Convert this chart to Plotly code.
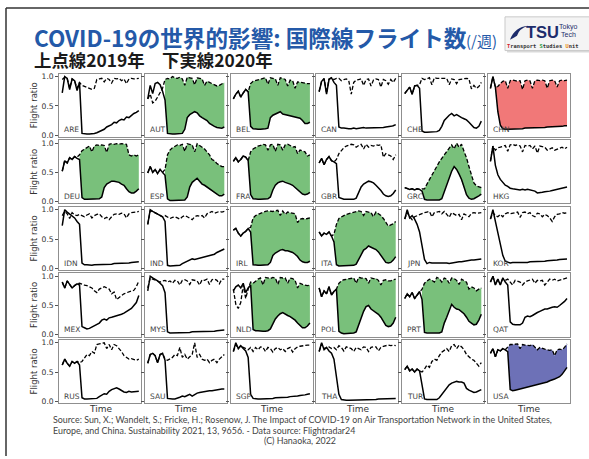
import plotly.graph_objects as go

# ---------------- data ----------------
weeks = [1, 2, 3, 4, 5, 6, 7, 8, 9, 10, 11, 12, 13, 14, 15, 16,
         17, 18, 19, 20, 21, 22, 23, 24, 25, 26, 27, 28, 29, 30, 31, 32]

countries = ["ARE", "AUT", "BEL", "CAN", "CHE", "CHN",
             "DEU", "ESP", "FRA", "GBR", "GRC", "HKG",
             "IDN", "IND", "IRL", "ITA", "JPN", "KOR",
             "MEX", "MYS", "NLD", "POL", "PRT", "QAT",
             "RUS", "SAU", "SGP", "THA", "TUR", "USA"]

green_fill = ["AUT", "BEL", "DEU", "ESP", "FRA", "GRC", "IRL", "ITA", "NLD", "POL", "PRT"]
red_fill = ["CHN"]
blue_fill = ["USA"]

ARE_2019 = [0.95, 0.99, 0.97, 0.80, 0.96, 0.93, 0.80, 0.90, 0.85, 0.83, 0.81, 0.80, 0.78, 0.80, 0.95, 0.96,
            0.97, 0.91, 0.97, 0.95, 0.89, 0.97, 0.96, 0.97, 0.93, 0.96, 0.88, 0.96, 0.97, 0.96, 0.97, 0.97]
ARE_2020 = [0.72, 1.00, 0.97, 0.78, 0.96, 0.93, 0.76, 0.90, 0.03, 0.02, 0.02, 0.02, 0.02, 0.03, 0.04, 0.06,
            0.08, 0.10, 0.14, 0.16, 0.18, 0.22, 0.21, 0.25, 0.27, 0.26, 0.31, 0.30, 0.34, 0.37, 0.39, 0.42]
AUT_2019 = [0.62, 0.70, 0.55, 0.58, 0.65, 0.72, 0.80, 0.95, 0.97, 0.96, 1.00, 0.98, 0.97, 0.99, 0.96, 0.85,
            0.99, 0.98, 0.97, 0.86, 0.98, 0.97, 0.96, 0.85, 0.92, 0.90, 0.88, 0.85, 0.84, 0.85, 0.88, 0.90]
AUT_2020 = [0.62, 0.85, 0.71, 0.88, 0.90, 0.86, 0.75, 0.60, 0.03, 0.02, 0.02, 0.02, 0.02, 0.02, 0.03, 0.10,
            0.30, 0.35, 0.37, 0.40, 0.38, 0.33, 0.30, 0.28, 0.25, 0.20, 0.17, 0.15, 0.13, 0.12, 0.12, 0.14]
BEL_2019 = [0.62, 0.70, 0.75, 0.65, 0.72, 0.78, 0.74, 0.88, 0.92, 0.93, 0.95, 0.96, 0.97, 0.98, 0.87, 0.98,
            0.97, 0.96, 0.85, 0.98, 0.97, 0.95, 0.84, 0.94, 0.93, 0.80, 0.91, 0.90, 0.89, 0.88, 0.88, 0.88]
BEL_2020 = [0.62, 0.70, 0.75, 0.65, 0.72, 0.78, 0.74, 0.15, 0.11, 0.10, 0.10, 0.10, 0.10, 0.11, 0.12, 0.30,
            0.34, 0.36, 0.38, 0.40, 0.36, 0.35, 0.33, 0.33, 0.32, 0.31, 0.30, 0.29, 0.25, 0.20, 0.20, 0.22]
CAN_2019 = [0.75, 0.92, 0.97, 0.72, 0.96, 0.98, 0.95, 0.97, 0.97, 0.93, 0.95, 0.96, 0.93, 0.70, 0.90, 0.94,
            0.95, 0.96, 0.85, 0.95, 0.96, 0.84, 0.94, 0.96, 0.95, 0.82, 0.95, 0.93, 0.87, 0.95, 0.90, 0.97]
CAN_2020 = [0.74, 0.92, 0.96, 0.70, 0.95, 0.98, 0.90, 0.85, 0.14, 0.12, 0.12, 0.11, 0.11, 0.11, 0.12, 0.11,
            0.12, 0.12, 0.13, 0.12, 0.12, 0.13, 0.12, 0.12, 0.13, 0.13, 0.13, 0.14, 0.14, 0.15, 0.16, 0.18]
CHE_2019 = [0.71, 0.76, 0.82, 0.70, 0.84, 0.85, 0.86, 0.97, 0.95, 0.96, 0.98, 0.86, 0.98, 0.97, 0.97, 0.98,
            0.97, 0.97, 0.86, 0.96, 0.95, 0.88, 0.95, 0.96, 0.97, 0.97, 0.96, 0.79, 0.85, 0.80, 0.83, 0.90]
CHE_2020 = [0.71, 0.76, 0.82, 0.70, 0.84, 0.85, 0.80, 0.07, 0.05, 0.05, 0.05, 0.05, 0.05, 0.06, 0.08, 0.15,
            0.25, 0.30, 0.34, 0.37, 0.33, 0.35, 0.32, 0.30, 0.28, 0.26, 0.22, 0.17, 0.13, 0.12, 0.15, 0.24]
CHN_2019 = [0.80, 1.00, 0.82, 0.83, 0.88, 0.92, 0.93, 0.80, 0.93, 0.94, 0.93, 0.92, 0.93, 0.78, 0.93, 0.94,
            0.93, 0.80, 0.93, 0.94, 0.93, 0.94, 0.93, 0.80, 0.93, 0.94, 0.93, 0.82, 0.93, 0.94, 0.93, 0.94]
CHN_2020 = [0.80, 1.00, 0.82, 0.40, 0.17, 0.11, 0.10, 0.10, 0.10, 0.10, 0.11, 0.11, 0.11, 0.11, 0.12, 0.12,
            0.12, 0.12, 0.12, 0.13, 0.13, 0.13, 0.13, 0.14, 0.14, 0.14, 0.14, 0.15, 0.15, 0.15, 0.16, 0.16]
DEU_2019 = [0.52, 0.70, 0.66, 0.75, 0.72, 0.77, 0.76, 0.80, 0.87, 0.90, 0.93, 0.95, 0.85, 0.95, 0.97, 0.96,
            0.97, 0.96, 0.84, 0.98, 0.99, 0.98, 0.99, 0.98, 0.99, 0.98, 0.98, 0.80, 0.78, 0.80, 0.78, 0.80]
DEU_2020 = [0.52, 0.70, 0.66, 0.75, 0.72, 0.77, 0.74, 0.72, 0.07, 0.04, 0.04, 0.04, 0.04, 0.04, 0.04, 0.05,
            0.08, 0.24, 0.30, 0.33, 0.35, 0.35, 0.34, 0.33, 0.30, 0.28, 0.22, 0.17, 0.15, 0.15, 0.18, 0.22]
ESP_2019 = [0.49, 0.60, 0.50, 0.55, 0.48, 0.55, 0.50, 0.55, 0.80, 0.88, 0.92, 0.95, 0.97, 0.96, 0.98, 0.86,
            0.99, 0.98, 0.97, 0.85, 0.99, 0.96, 0.93, 0.90, 0.85, 0.80, 0.72, 0.70, 0.65, 0.62, 0.60, 0.60]
ESP_2020 = [0.49, 0.60, 0.50, 0.55, 0.48, 0.55, 0.50, 0.45, 0.05, 0.02, 0.02, 0.02, 0.02, 0.02, 0.02, 0.03,
            0.08, 0.25, 0.33, 0.37, 0.40, 0.35, 0.30, 0.28, 0.25, 0.22, 0.18, 0.15, 0.12, 0.10, 0.10, 0.13]
FRA_2019 = [0.69, 0.75, 0.68, 0.72, 0.78, 0.76, 0.70, 0.85, 0.90, 0.93, 0.95, 0.96, 0.98, 0.97, 0.88, 0.97,
            0.98, 0.86, 0.98, 0.97, 0.88, 0.97, 0.98, 0.96, 0.93, 0.94, 0.82, 0.88, 0.86, 0.85, 0.78, 0.80]
FRA_2020 = [0.69, 0.75, 0.68, 0.72, 0.78, 0.76, 0.70, 0.12, 0.05, 0.04, 0.04, 0.04, 0.04, 0.04, 0.05, 0.08,
            0.20, 0.28, 0.32, 0.34, 0.35, 0.33, 0.32, 0.30, 0.28, 0.24, 0.20, 0.16, 0.13, 0.12, 0.13, 0.16]
GBR_2019 = [0.66, 0.74, 0.63, 0.72, 0.77, 0.70, 0.68, 0.72, 0.82, 0.88, 0.92, 0.95, 0.96, 0.98, 0.97, 0.93,
            0.96, 0.98, 0.90, 0.98, 0.93, 0.96, 0.95, 0.97, 0.96, 0.97, 0.76, 0.82, 0.80, 0.78, 0.72, 0.80]
GBR_2020 = [0.66, 0.74, 0.63, 0.72, 0.77, 0.70, 0.68, 0.65, 0.07, 0.05, 0.04, 0.04, 0.04, 0.04, 0.04, 0.06,
            0.15, 0.25, 0.30, 0.33, 0.35, 0.34, 0.32, 0.28, 0.24, 0.19, 0.13, 0.10, 0.09, 0.10, 0.14, 0.20]
GRC_2019 = [0.24, 0.22, 0.21, 0.22, 0.20, 0.22, 0.21, 0.22, 0.22, 0.30, 0.38, 0.45, 0.52, 0.60, 0.68, 0.74,
            0.80, 0.86, 0.92, 0.97, 0.90, 1.00, 0.93, 0.98, 0.86, 0.75, 0.60, 0.45, 0.32, 0.27, 0.25, 0.24]
GRC_2020 = [0.24, 0.22, 0.21, 0.22, 0.20, 0.22, 0.21, 0.18, 0.04, 0.03, 0.03, 0.03, 0.03, 0.03, 0.03, 0.05,
            0.17, 0.30, 0.42, 0.52, 0.60, 0.55, 0.47, 0.38, 0.25, 0.12, 0.06, 0.04, 0.05, 0.07, 0.10, 0.13]
HKG_2019 = [0.69, 0.95, 0.88, 0.92, 0.93, 0.95, 0.96, 0.86, 0.97, 0.98, 0.96, 0.97, 0.95, 0.85, 0.96, 0.95,
            0.96, 0.90, 0.95, 0.83, 0.95, 0.94, 0.93, 0.88, 0.90, 0.92, 0.88, 0.90, 0.92, 0.93, 0.90, 0.93]
HKG_2020 = [0.69, 0.95, 0.62, 0.46, 0.38, 0.32, 0.28, 0.26, 0.23, 0.22, 0.21, 0.20, 0.20, 0.21, 0.20, 0.21,
            0.20, 0.20, 0.18, 0.15, 0.15, 0.16, 0.17, 0.17, 0.18, 0.19, 0.20, 0.21, 0.22, 0.23, 0.24, 0.25]
IDN_2019 = [0.90, 0.97, 0.93, 0.85, 0.95, 0.91, 0.90, 0.92, 0.90, 0.88, 0.91, 0.93, 0.86, 0.90, 0.92, 0.93,
            0.88, 0.85, 0.87, 0.83, 0.88, 0.92, 0.93, 0.92, 0.94, 0.93, 0.86, 0.93, 0.95, 0.95, 0.96, 0.97]
IDN_2020 = [0.73, 1.00, 0.96, 0.93, 0.90, 0.86, 0.80, 0.75, 0.09, 0.06, 0.06, 0.05, 0.05, 0.06, 0.06, 0.06,
            0.06, 0.07, 0.07, 0.07, 0.07, 0.08, 0.08, 0.08, 0.08, 0.09, 0.09, 0.09, 0.10, 0.10, 0.10, 0.11]
IND_2019 = [0.75, 0.98, 0.97, 0.95, 0.92, 0.90, 0.88, 0.90, 0.88, 0.85, 0.87, 0.88, 0.86, 0.84, 0.88, 0.90,
            0.88, 0.86, 0.83, 0.88, 0.90, 0.89, 0.90, 0.86, 0.93, 0.95, 0.97, 0.94, 0.96, 0.97, 0.96, 0.97]
IND_2020 = [0.75, 1.00, 0.97, 0.95, 0.92, 0.90, 0.88, 0.80, 0.05, 0.04, 0.04, 0.04, 0.04, 0.05, 0.08, 0.10,
            0.12, 0.14, 0.16, 0.15, 0.16, 0.17, 0.18, 0.19, 0.20, 0.21, 0.22, 0.24, 0.27, 0.29, 0.31, 0.33]
IRL_2019 = [0.65, 0.68, 0.60, 0.55, 0.60, 0.63, 0.68, 0.70, 0.86, 0.90, 0.92, 0.94, 0.95, 0.97, 0.98, 0.97,
            0.97, 0.98, 0.99, 0.90, 0.98, 0.92, 0.96, 0.95, 0.94, 0.93, 0.78, 0.84, 0.85, 0.84, 0.85, 0.86]
IRL_2020 = [0.65, 0.68, 0.60, 0.55, 0.60, 0.63, 0.68, 0.62, 0.06, 0.05, 0.05, 0.05, 0.05, 0.05, 0.06, 0.10,
            0.22, 0.26, 0.29, 0.31, 0.32, 0.30, 0.30, 0.29, 0.27, 0.24, 0.20, 0.14, 0.11, 0.10, 0.10, 0.12]
ITA_2019 = [0.62, 0.55, 0.60, 0.58, 0.62, 0.55, 0.58, 0.75, 0.85, 0.88, 0.90, 0.92, 0.93, 0.95, 0.96, 0.97,
            0.98, 0.97, 0.90, 0.97, 0.96, 0.95, 0.88, 0.96, 0.93, 0.90, 0.85, 0.78, 0.72, 0.74, 0.76, 0.80]
ITA_2020 = [0.62, 0.55, 0.60, 0.58, 0.62, 0.55, 0.45, 0.06, 0.04, 0.04, 0.04, 0.04, 0.04, 0.04, 0.05, 0.07,
            0.15, 0.25, 0.31, 0.34, 0.38, 0.36, 0.34, 0.32, 0.28, 0.22, 0.16, 0.10, 0.09, 0.10, 0.14, 0.20]
JPN_2019 = [0.84, 0.95, 0.88, 0.83, 0.88, 0.90, 0.92, 0.93, 0.95, 0.96, 0.97, 0.88, 0.95, 0.96, 0.97, 0.93,
            0.97, 0.92, 0.87, 0.95, 0.93, 0.90, 0.92, 0.83, 0.93, 0.90, 0.88, 0.94, 0.95, 0.94, 0.95, 0.95]
JPN_2020 = [0.84, 1.00, 0.86, 0.90, 0.84, 0.75, 0.62, 0.40, 0.15, 0.08, 0.10, 0.09, 0.09, 0.09, 0.10, 0.10,
            0.10, 0.09, 0.08, 0.09, 0.10, 0.10, 0.11, 0.11, 0.12, 0.12, 0.13, 0.14, 0.14, 0.15, 0.15, 0.16]
KOR_2019 = [0.84, 0.95, 0.90, 0.88, 0.92, 0.88, 0.93, 0.95, 0.93, 0.94, 0.95, 0.96, 0.87, 0.95, 0.96, 0.93,
            0.95, 0.90, 0.88, 0.94, 0.93, 0.88, 0.92, 0.90, 0.86, 0.80, 0.88, 0.92, 0.93, 0.95, 0.94, 0.95]
KOR_2020 = [0.84, 1.00, 0.80, 0.60, 0.40, 0.22, 0.12, 0.10, 0.09, 0.10, 0.10, 0.10, 0.09, 0.10, 0.10, 0.10,
            0.11, 0.11, 0.11, 0.12, 0.12, 0.12, 0.12, 0.13, 0.13, 0.13, 0.14, 0.14, 0.15, 0.15, 0.16, 0.16]
MEX_2019 = [0.90, 0.80, 0.92, 0.85, 0.80, 0.84, 0.87, 0.88, 0.86, 0.85, 0.84, 0.82, 0.80, 0.75, 0.72, 0.78,
            0.80, 0.82, 0.80, 0.78, 0.70, 0.73, 0.60, 0.64, 0.67, 0.70, 0.72, 0.73, 0.75, 0.76, 0.82, 0.92]
MEX_2020 = [0.90, 0.80, 0.92, 0.85, 0.80, 0.84, 0.87, 0.85, 0.14, 0.12, 0.10, 0.11, 0.13, 0.15, 0.18, 0.20,
            0.25, 0.27, 0.25, 0.29, 0.30, 0.31, 0.32, 0.34, 0.35, 0.37, 0.40, 0.42, 0.45, 0.50, 0.55, 0.67]
MYS_2019 = [0.80, 0.97, 0.95, 0.93, 0.92, 0.90, 0.92, 0.93, 0.90, 0.92, 0.88, 0.93, 0.92, 0.85, 0.93, 0.94,
            0.92, 0.86, 0.94, 0.93, 0.92, 0.85, 0.94, 0.93, 0.95, 0.86, 0.94, 0.95, 0.93, 0.87, 0.95, 0.95]
MYS_2020 = [0.75, 1.00, 0.97, 0.95, 0.92, 0.88, 0.84, 0.72, 0.05, 0.03, 0.03, 0.03, 0.03, 0.03, 0.04, 0.04,
            0.04, 0.04, 0.05, 0.05, 0.05, 0.05, 0.05, 0.06, 0.06, 0.06, 0.06, 0.06, 0.07, 0.07, 0.07, 0.08]
NLD_2019 = [0.78, 0.52, 0.45, 0.55, 0.85, 0.62, 0.78, 0.90, 0.88, 0.92, 0.95, 0.97, 0.85, 0.98, 0.97, 0.96,
            0.98, 0.97, 0.86, 0.98, 0.97, 0.97, 0.88, 0.97, 0.96, 0.93, 0.80, 0.88, 0.86, 0.85, 0.84, 0.85]
NLD_2020 = [0.75, 0.82, 0.85, 0.80, 0.88, 0.72, 0.80, 0.85, 0.09, 0.07, 0.07, 0.06, 0.06, 0.06, 0.07, 0.10,
            0.20, 0.27, 0.32, 0.36, 0.38, 0.35, 0.33, 0.31, 0.28, 0.25, 0.20, 0.15, 0.12, 0.12, 0.15, 0.20]
POL_2019 = [0.80, 0.65, 0.75, 0.70, 0.82, 0.68, 0.74, 0.78, 0.88, 0.92, 0.94, 0.95, 0.96, 0.97, 0.97, 0.88,
            0.98, 0.97, 0.97, 0.96, 0.88, 0.97, 0.96, 0.96, 0.93, 0.85, 0.93, 0.94, 0.92, 0.92, 0.94, 0.95]
POL_2020 = [0.80, 0.65, 0.75, 0.70, 0.82, 0.68, 0.74, 0.78, 0.06, 0.03, 0.02, 0.02, 0.02, 0.02, 0.03, 0.05,
            0.18, 0.30, 0.40, 0.48, 0.50, 0.44, 0.41, 0.39, 0.35, 0.30, 0.22, 0.16, 0.14, 0.15, 0.20, 0.30]
PRT_2019 = [0.62, 0.70, 0.65, 0.72, 0.62, 0.68, 0.74, 0.78, 0.88, 0.92, 0.95, 0.93, 0.90, 0.98, 0.96, 0.90,
            0.97, 0.95, 0.88, 0.97, 0.96, 0.93, 0.86, 0.95, 0.92, 0.90, 0.78, 0.82, 0.80, 0.75, 0.78, 0.80]
PRT_2020 = [0.62, 0.70, 0.65, 0.72, 0.62, 0.68, 0.74, 0.60, 0.04, 0.03, 0.03, 0.03, 0.03, 0.03, 0.03, 0.05,
            0.20, 0.30, 0.42, 0.52, 0.47, 0.44, 0.43, 0.40, 0.36, 0.30, 0.23, 0.20, 0.17, 0.18, 0.25, 0.35]
QAT_2019 = [0.90, 1.00, 0.86, 0.95, 0.86, 0.96, 0.93, 0.95, 0.90, 0.85, 0.93, 0.92, 0.90, 0.85, 0.90, 0.92,
            0.93, 0.95, 0.88, 0.93, 0.92, 0.93, 0.85, 0.90, 0.95, 0.93, 0.95, 0.92, 0.93, 0.95, 0.96, 0.97]
QAT_2020 = [0.90, 1.00, 0.85, 0.95, 0.85, 0.97, 0.90, 0.85, 0.22, 0.18, 0.17, 0.17, 0.17, 0.20, 0.30, 0.32,
            0.31, 0.33, 0.36, 0.38, 0.40, 0.42, 0.44, 0.44, 0.46, 0.47, 0.48, 0.47, 0.50, 0.53, 0.57, 0.62]
RUS_2019 = [0.62, 0.72, 0.65, 0.60, 0.68, 0.65, 0.68, 0.66, 0.68, 0.74, 0.80, 0.78, 0.85, 0.82, 0.97, 0.98,
            0.99, 1.00, 0.90, 0.97, 0.88, 0.97, 0.95, 0.90, 0.85, 0.78, 0.75, 0.72, 0.73, 0.72, 0.70, 0.72]
RUS_2020 = [0.62, 0.72, 0.65, 0.60, 0.68, 0.65, 0.68, 0.62, 0.06, 0.04, 0.04, 0.04, 0.04, 0.04, 0.05, 0.08,
            0.11, 0.13, 0.12, 0.17, 0.20, 0.21, 0.23, 0.21, 0.18, 0.16, 0.15, 0.17, 0.16, 0.16, 0.17, 0.17]
SAU_2019 = [0.65, 0.80, 0.82, 0.78, 0.66, 0.80, 0.82, 0.72, 0.70, 0.72, 0.75, 0.80, 0.78, 0.92, 0.75, 0.80,
            0.72, 0.76, 0.80, 1.00, 0.75, 0.80, 0.72, 0.70, 0.72, 0.66, 0.70, 0.72, 0.66, 0.72, 0.76, 0.80]
SAU_2020 = [0.65, 0.80, 0.82, 0.78, 0.66, 0.80, 0.82, 0.70, 0.05, 0.04, 0.04, 0.04, 0.05, 0.07, 0.09, 0.08,
            0.10, 0.12, 0.09, 0.12, 0.14, 0.15, 0.16, 0.16, 0.17, 0.18, 0.18, 0.19, 0.20, 0.20, 0.21, 0.21]
SGP_2019 = [0.85, 0.97, 0.90, 0.95, 0.92, 0.90, 0.88, 0.92, 0.85, 0.92, 0.88, 0.93, 0.92, 0.85, 0.92, 0.90,
            0.84, 0.90, 0.92, 0.88, 0.90, 0.85, 0.90, 0.92, 0.84, 0.90, 0.93, 0.94, 0.95, 0.95, 0.96, 0.96]
SGP_2020 = [0.85, 1.00, 0.90, 0.95, 0.90, 0.86, 0.75, 0.12, 0.05, 0.04, 0.04, 0.04, 0.04, 0.05, 0.05, 0.05,
            0.05, 0.06, 0.06, 0.06, 0.07, 0.07, 0.07, 0.08, 0.08, 0.09, 0.09, 0.10, 0.10, 0.11, 0.12, 0.13]
THA_2019 = [0.85, 0.98, 0.90, 0.92, 0.93, 0.90, 0.92, 0.88, 0.95, 0.92, 0.86, 0.93, 0.92, 0.90, 0.85, 0.92,
            0.90, 0.88, 0.93, 0.92, 0.85, 0.92, 0.93, 0.93, 0.86, 0.92, 0.94, 0.95, 0.96, 0.95, 0.96, 0.95]
THA_2020 = [0.85, 1.00, 0.88, 0.92, 0.86, 0.82, 0.72, 0.45, 0.12, 0.03, 0.02, 0.02, 0.02, 0.02, 0.02, 0.02,
            0.02, 0.03, 0.03, 0.03, 0.03, 0.03, 0.03, 0.03, 0.04, 0.04, 0.04, 0.04, 0.04, 0.05, 0.05, 0.05]
TUR_2019 = [0.54, 0.60, 0.52, 0.55, 0.50, 0.55, 0.52, 0.50, 0.55, 0.62, 0.58, 0.68, 0.72, 0.70, 0.78, 0.84,
            0.87, 0.90, 0.85, 0.95, 0.97, 0.90, 0.96, 0.93, 0.88, 0.80, 0.76, 0.72, 0.70, 0.64, 0.60, 0.66]
TUR_2020 = [0.54, 0.60, 0.52, 0.55, 0.50, 0.55, 0.52, 0.30, 0.04, 0.03, 0.03, 0.03, 0.03, 0.03, 0.06, 0.12,
            0.18, 0.24, 0.28, 0.31, 0.33, 0.34, 0.33, 0.33, 0.31, 0.22, 0.19, 0.17, 0.15, 0.16, 0.18, 0.20]
USA_2019 = [0.82, 0.90, 0.76, 0.88, 0.86, 0.90, 0.88, 0.92, 0.97, 0.97, 0.98, 0.98, 0.90, 0.97, 0.96, 0.96,
            0.95, 0.97, 0.93, 0.88, 0.92, 0.90, 0.89, 0.88, 0.87, 0.88, 0.78, 0.88, 0.89, 0.88, 0.92, 0.98]
USA_2020 = [0.82, 0.90, 0.76, 0.88, 0.86, 0.90, 0.88, 0.85, 0.20, 0.18, 0.19, 0.20, 0.21, 0.22, 0.23, 0.25,
            0.25, 0.27, 0.28, 0.29, 0.30, 0.31, 0.32, 0.33, 0.35, 0.36, 0.38, 0.40, 0.42, 0.46, 0.52, 0.58]

series_2019 = {
    "ARE": ARE_2019, "AUT": AUT_2019, "BEL": BEL_2019, "CAN": CAN_2019, "CHE": CHE_2019, "CHN": CHN_2019,
    "DEU": DEU_2019, "ESP": ESP_2019, "FRA": FRA_2019, "GBR": GBR_2019, "GRC": GRC_2019, "HKG": HKG_2019,
    "IDN": IDN_2019, "IND": IND_2019, "IRL": IRL_2019, "ITA": ITA_2019, "JPN": JPN_2019, "KOR": KOR_2019,
    "MEX": MEX_2019, "MYS": MYS_2019, "NLD": NLD_2019, "POL": POL_2019, "PRT": PRT_2019, "QAT": QAT_2019,
    "RUS": RUS_2019, "SAU": SAU_2019, "SGP": SGP_2019, "THA": THA_2019, "TUR": TUR_2019, "USA": USA_2019,
}
series_2020 = {
    "ARE": ARE_2020, "AUT": AUT_2020, "BEL": BEL_2020, "CAN": CAN_2020, "CHE": CHE_2020, "CHN": CHN_2020,
    "DEU": DEU_2020, "ESP": ESP_2020, "FRA": FRA_2020, "GBR": GBR_2020, "GRC": GRC_2020, "HKG": HKG_2020,
    "IDN": IDN_2020, "IND": IND_2020, "IRL": IRL_2020, "ITA": ITA_2020, "JPN": JPN_2020, "KOR": KOR_2020,
    "MEX": MEX_2020, "MYS": MYS_2020, "NLD": NLD_2020, "POL": POL_2020, "PRT": PRT_2020, "QAT": QAT_2020,
    "RUS": RUS_2020, "SAU": SAU_2020, "SGP": SGP_2020, "THA": THA_2020, "TUR": TUR_2020, "USA": USA_2020,
}

ytick_vals = [0.0, 0.5, 1.0]
ytick_text = ["0.0", "0.5", "1.0"]

# ---------------- layout helpers ----------------
W, H = 589, 459


def fx(px):
    return px / W


def fy(py):
    return 1 - py / H


col_left = [59.4, 144.9, 230.5, 316.3, 401.9, 487.6]
panel_w = 82.0
row_top = [73.3, 140.4, 207.6, 274.7, 341.8]
panel_h = 63.8

fill_color = {}
for c in green_fill:
    fill_color[c] = "#79c07b"
for c in red_fill:
    fill_color[c] = "#f17878"
for c in blue_fill:
    fill_color[c] = "#6d71b7"

FONT = "DejaVu Sans"
fig = go.Figure()
annotations = []
layout_axes = {}

for k, name in enumerate(countries):
    r, c = divmod(k, 6)
    sfx = "" if k == 0 else str(k + 1)
    xref, yref = "x" + sfx, "y" + sfx
    y19 = series_2019[name]
    y20 = series_2020[name]

    if name in fill_color:
        start = next(i for i in range(len(y20)) if y20[i] < 0.5 * y19[i]) - 1
        xs = weeks[start:] + weeks[start:][::-1]
        ys = y19[start:] + y20[start:][::-1]
        fig.add_trace(go.Scatter(x=xs, y=ys, xaxis=xref, yaxis=yref, mode="lines",
                                 fill="toself", fillcolor=fill_color[name],
                                 line=dict(width=0), hoverinfo="skip", showlegend=False))
    fig.add_trace(go.Scatter(x=weeks, y=y19, xaxis=xref, yaxis=yref, mode="lines",
                             line=dict(color="black", width=1.3, dash="4px,2px"),
                             showlegend=False, name=name + " 2019"))
    fig.add_trace(go.Scatter(x=weeks, y=y20, xaxis=xref, yaxis=yref, mode="lines",
                             line=dict(color="black", width=1.5),
                             showlegend=False, name=name + " 2020"))

    left = col_left[c]
    top = row_top[r]
    layout_axes["xaxis" + sfx] = dict(
        domain=[fx(left), fx(left + panel_w)], anchor=yref,
        range=[weeks[0] - 1.15, weeks[-1] + 1.05],
        showline=True, mirror=True, linecolor="#8f8f8f", linewidth=1.4,
        showgrid=False, zeroline=False, showticklabels=False, ticks="",
    )
    layout_axes["yaxis" + sfx] = dict(
        domain=[fy(top + panel_h), fy(top)], anchor=xref,
        range=[-0.03, 1.05],
        showline=True, mirror=True, linecolor="#8f8f8f", linewidth=1.4,
        showgrid=False, zeroline=False,
        tickvals=ytick_vals, ticktext=ytick_text,
        ticks="outside", ticklen=3, tickwidth=1, tickcolor="#555555",
        showticklabels=(c == 0),
        tickfont=dict(family=FONT, size=7.6, color="#333333"),
    )
    annotations.append(dict(
        x=fx(left + 3), y=fy(top + panel_h - 7), xref="paper", yref="paper",
        text=name, showarrow=False, xanchor="left", yanchor="middle",
        font=dict(family=FONT, size=7.5, color="#444444")))

for r in range(5):
    annotations.append(dict(
        x=fx(34), y=fy(row_top[r] + panel_h / 2), xref="paper", yref="paper",
        text="Flight ratio", textangle=-90, showarrow=False,
        xanchor="center", yanchor="middle",
        font=dict(family=FONT, size=8.5, color="#333333")))

for c in range(6):
    annotations.append(dict(
        x=fx(col_left[c] + panel_w / 2), y=fy(412), xref="paper", yref="paper",
        text="Time", showarrow=False, xanchor="center", yanchor="middle",
        font=dict(family=FONT, size=9, color="#333333")))

# titles
annotations.append(dict(
    x=fx(32), y=fy(36.5), xref="paper", yref="paper",
    text="<b>COVID-19の世界的影響: 国際線フライト数</b>", showarrow=False,
    xanchor="left", yanchor="middle",
    font=dict(family="Noto Sans CJK JP", size=22.6, color="#2459a8")))
annotations.append(dict(
    x=fx(464), y=fy(40), xref="paper", yref="paper",
    text="(/週)", showarrow=False, xanchor="left", yanchor="middle",
    font=dict(family="Noto Sans CJK JP", size=15, color="#2459a8")))
annotations.append(dict(
    x=fx(32), y=fy(59.5), xref="paper", yref="paper",
    text="<b>上点線2019年　下実線2020年</b>", showarrow=False,
    xanchor="left", yanchor="middle",
    font=dict(family="Noto Sans CJK JP", size=17.4, color="#1a1a1a")))

# source
SRC_FONT = dict(family="Lato", size=8.9, color="#444444")
annotations.append(dict(
    x=fx(50.5), y=fy(422), xref="paper", yref="paper",
    text="Source: Sun, X.; Wandelt, S.; Fricke, H.; Rosenow, J. The Impact of COVID-19 on Air Transportation Network in the United States,",
    showarrow=False, xanchor="left", yanchor="middle", font=SRC_FONT))
annotations.append(dict(
    x=fx(50.5), y=fy(433), xref="paper", yref="paper",
    text="Europe, and China. Sustainability 2021, 13, 9656. - Data source: Flightradar24",
    showarrow=False, xanchor="left", yanchor="middle", font=SRC_FONT))
annotations.append(dict(
    x=fx(300), y=fy(443), xref="paper", yref="paper",
    text="(C) Hanaoka, 2022",
    showarrow=False, xanchor="center", yanchor="middle", font=SRC_FONT))

# logo texts
annotations.append(dict(
    x=fx(542), y=fy(31), xref="paper", yref="paper", text="<b>TSU</b>",
    showarrow=False, xanchor="center", yanchor="middle",
    font=dict(family="Liberation Sans", size=16.5, color="#1d2c6b")))
annotations.append(dict(
    x=fx(557), y=fy(26), xref="paper", yref="paper", text="Tokyo",
    showarrow=False, xanchor="left", yanchor="middle",
    font=dict(family="Liberation Sans", size=7, color="#1d2c6b")))
annotations.append(dict(
    x=fx(559), y=fy(34), xref="paper", yref="paper", text="Tech",
    showarrow=False, xanchor="left", yanchor="middle",
    font=dict(family="Liberation Sans", size=7, color="#1d2c6b")))
annotations.append(dict(
    x=fx(505), y=fy(45.5), xref="paper", yref="paper",
    text="<b><span style='color:#d2232a'>T</span>ransport <span style='color:#2f9e44'>S</span>tudies <span style='color:#e88a12'>U</span>nit</b>",
    showarrow=False, xanchor="left", yanchor="middle",
    font=dict(family="DejaVu Sans Mono", size=5.4, color="#333333")))

shapes = [
    # slide frame
    dict(type="line", xref="paper", yref="paper", x0=fx(6), x1=fx(589), y0=fy(7), y1=fy(7),
         line=dict(color="#333333", width=1.5)),
    dict(type="line", xref="paper", yref="paper", x0=fx(6), x1=fx(6), y0=fy(7), y1=fy(459),
         line=dict(color="#333333", width=1.5)),
    # logo box shadow and box
    dict(type="rect", xref="paper", yref="paper", x0=fx(507), x1=fx(592), y0=fy(52), y1=fy(18),
         fillcolor="#d9d9d9", line=dict(width=0), layer="below"),
    dict(type="rect", xref="paper", yref="paper", x0=fx(505), x1=fx(590), y0=fy(50), y1=fy(16),
         fillcolor="#f4f4f4", line=dict(color="#c9c9c9", width=1), layer="below"),
    # swoosh
    dict(type="path", xref="paper", yref="paper",
         path=("M {a},{b} Q {c},{d} {e},{f} Q {g},{h} {i},{j} Q {k},{l} {a},{b} Z").format(
             a=fx(510), b=fy(39), c=fx(515), d=fy(26), e=fx(528), f=fy(25),
             g=fx(519), h=fy(28), i=fx(517), j=fy(35), k=fx(514), l=fy(37)),
         fillcolor="#1d2c6b", line=dict(width=0)),
]

fig.update_layout(
    width=W, height=H, margin=dict(l=0, r=0, t=0, b=0),
    paper_bgcolor="white", plot_bgcolor="white",
    showlegend=False, annotations=annotations, shapes=shapes,
    **layout_axes,
)

fig.write_html("out.html", config={"displayModeBar": False},
               post_script="document.body.style.margin='0px';document.body.style.overflow='hidden';")
